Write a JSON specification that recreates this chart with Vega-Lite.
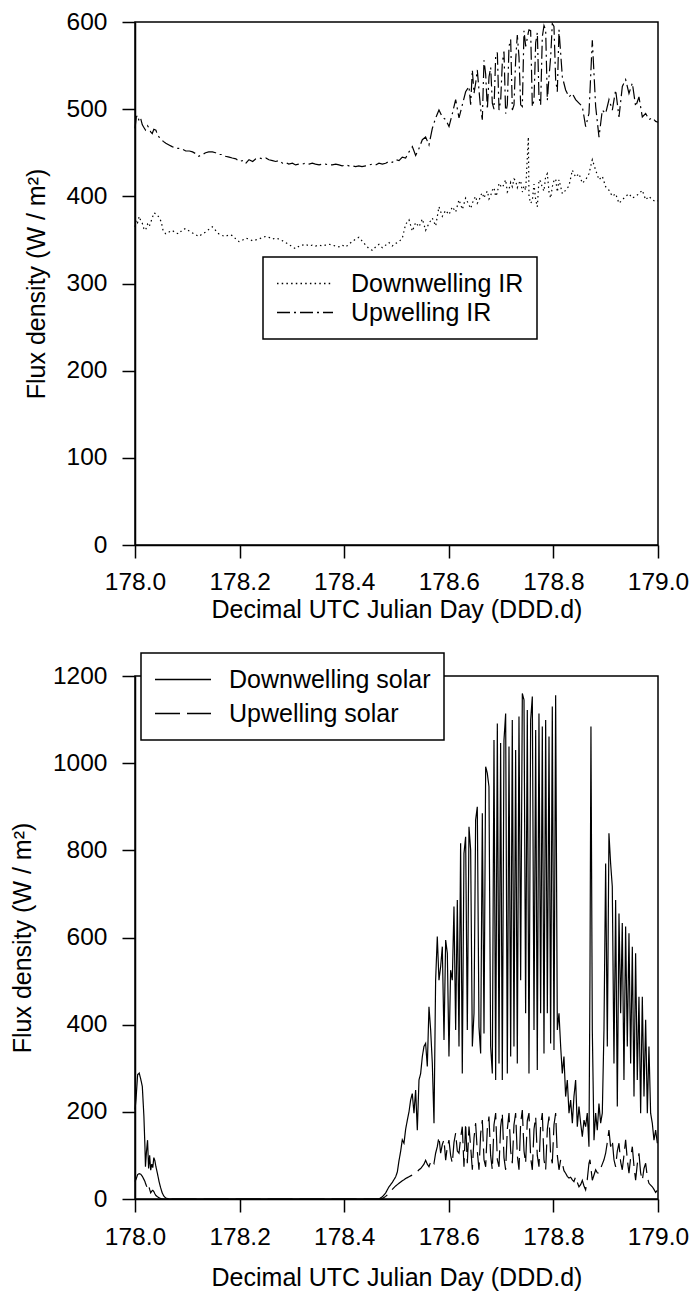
{
"$schema":"https://vega.github.io/schema/vega-lite/v6.json",
"background":"white",
"padding":{"left":9,"top":8,"right":4,"bottom":0},
"datasets":{
"ir":[
{"t":178.000,"down":365,"up":478},{"t":178.0025,"down":373,"up":491},{"t":178.005,"down":370,"up":493},{"t":178.008,"down":377,"up":486},{"t":178.011,"down":372,"up":489},{"t":178.014,"down":369,"up":482},{"t":178.017,"down":363,"up":479},{"t":178.020,"down":361,"up":476},{"t":178.024,"down":368,"up":481},{"t":178.027,"down":365,"up":478},{"t":178.030,"down":370,"up":474},{"t":178.033,"down":375,"up":472},{"t":178.036,"down":381,"up":477},{"t":178.040,"down":380,"up":476},{"t":178.043,"down":378,"up":470},{"t":178.046,"down":376,"up":468},{"t":178.050,"down":371,"up":466},{"t":178.054,"down":360,"up":463},{"t":178.059,"down":357,"up":461},{"t":178.065,"down":359,"up":459},{"t":178.071,"down":361,"up":457},{"t":178.078,"down":358,"up":455},{"t":178.084,"down":357,"up":455},{"t":178.091,"down":362,"up":454},{"t":178.097,"down":363,"up":452},{"t":178.104,"down":360,"up":452},{"t":178.110,"down":358,"up":451},{"t":178.116,"down":356,"up":449},{"t":178.122,"down":354,"up":446},{"t":178.129,"down":357,"up":448},{"t":178.135,"down":359,"up":450},{"t":178.141,"down":362,"up":451},{"t":178.148,"down":365,"up":451},{"t":178.154,"down":361,"up":450},{"t":178.160,"down":357,"up":448},{"t":178.167,"down":355,"up":448},{"t":178.173,"down":354,"up":446},{"t":178.180,"down":356,"up":445},{"t":178.186,"down":355,"up":444},{"t":178.193,"down":351,"up":443},{"t":178.199,"down":348,"up":440},{"t":178.206,"down":350,"up":441},{"t":178.212,"down":352,"up":438},{"t":178.218,"down":351,"up":442},{"t":178.225,"down":349,"up":440},{"t":178.231,"down":350,"up":443},{"t":178.237,"down":351,"up":444},{"t":178.244,"down":353,"up":443},{"t":178.250,"down":354,"up":444},{"t":178.256,"down":353,"up":442},{"t":178.263,"down":351,"up":441},{"t":178.269,"down":352,"up":440},{"t":178.275,"down":351,"up":441},{"t":178.282,"down":349,"up":438},{"t":178.288,"down":347,"up":439},{"t":178.294,"down":345,"up":437},{"t":178.301,"down":342,"up":438},{"t":178.307,"down":340,"up":436},{"t":178.314,"down":343,"up":437},{"t":178.320,"down":344,"up":437},{"t":178.326,"down":345,"up":438},{"t":178.333,"down":343,"up":437},{"t":178.339,"down":344,"up":438},{"t":178.345,"down":343,"up":437},{"t":178.352,"down":344,"up":436},{"t":178.358,"down":343,"up":437},{"t":178.364,"down":344,"up":437},{"t":178.371,"down":345,"up":436},{"t":178.377,"down":344,"up":436},{"t":178.384,"down":343,"up":437},{"t":178.390,"down":342,"up":436},{"t":178.396,"down":344,"up":435},{"t":178.403,"down":342,"up":436},{"t":178.409,"down":345,"up":435},{"t":178.415,"down":348,"up":435},{"t":178.422,"down":351,"up":434},{"t":178.428,"down":353,"up":435},{"t":178.434,"down":349,"up":434},{"t":178.441,"down":344,"up":435},
{"t":178.4474,"down":340,"up":436},{"t":178.4538,"down":338,"up":437},{"t":178.4601,"down":342,"up":436},{"t":178.4665,"down":345,"up":438},{"t":178.4729,"down":341,"up":437},{"t":178.4793,"down":344,"up":438},{"t":178.4856,"down":347,"up":440},{"t":178.4920,"down":343,"up":439},{"t":178.4984,"down":346,"up":442},{"t":178.5048,"down":348,"up":441},{"t":178.5111,"down":352,"up":445},{"t":178.5175,"down":368,"up":444},{"t":178.5239,"down":373,"up":451},{"t":178.5303,"down":360,"up":457},{"t":178.5366,"down":370,"up":447},{"t":178.5430,"down":365,"up":455},{"t":178.5494,"down":374,"up":465},{"t":178.5557,"down":361,"up":468},{"t":178.5621,"down":369,"up":459},{"t":178.5685,"down":375,"up":478},{"t":178.5749,"down":366,"up":490},{"t":178.5812,"down":388,"up":499},{"t":178.5876,"down":377,"up":491},{"t":178.5940,"down":384,"up":488},{"t":178.6004,"down":379,"up":480},{"t":178.6068,"down":388,"up":495},{"t":178.6131,"down":382,"up":511},{"t":178.6195,"down":396,"up":490},{"t":178.6259,"down":385,"up":505},{"t":178.6322,"down":398,"up":520},{"t":178.6386,"down":390,"up":526},{"t":178.6418,"down":386,"up":505},{"t":178.6450,"down":392,"up":545},{"t":178.6482,"down":397,"up":518},{"t":178.6514,"down":400,"up":530},{"t":178.6545,"down":392,"up":545},{"t":178.6577,"down":395,"up":522},{"t":178.6609,"down":401,"up":500},{"t":178.6641,"down":404,"up":488},{"t":178.6673,"down":398,"up":556},{"t":178.6705,"down":403,"up":540},{"t":178.6737,"down":406,"up":500},{"t":178.6769,"down":397,"up":537},{"t":178.6801,"down":401,"up":548},{"t":178.6832,"down":407,"up":507},{"t":178.6864,"down":410,"up":500},{"t":178.6896,"down":400,"up":560},{"t":178.6928,"down":404,"up":565},{"t":178.6960,"down":415,"up":499},{"t":178.6992,"down":412,"up":510},{"t":178.7023,"down":410,"up":553},{"t":178.7055,"down":414,"up":566},{"t":178.7087,"down":419,"up":495},{"t":178.7119,"down":405,"up":505},{"t":178.7151,"down":408,"up":572},{"t":178.7183,"down":416,"up":580},{"t":178.7215,"down":411,"up":499},{"t":178.7247,"down":420,"up":505},{"t":178.7278,"down":418,"up":556},{"t":178.7310,"down":410,"up":585},{"t":178.7342,"down":415,"up":560},{"t":178.7374,"down":418,"up":505},{"t":178.7406,"down":405,"up":503},{"t":178.7438,"down":412,"up":590},{"t":178.7470,"down":407,"up":572},{"t":178.7521,"down":468,"up":588},{"t":178.7533,"down":400,"up":591},{"t":178.7565,"down":392,"up":590},{"t":178.7597,"down":395,"up":503},{"t":178.7629,"down":414,"up":510},{"t":178.7661,"down":396,"up":576},{"t":178.7693,"down":388,"up":588},{"t":178.7724,"down":419,"up":514},{"t":178.7756,"down":417,"up":505},{"t":178.7788,"down":410,"up":583},{"t":178.7820,"down":406,"up":596},{"t":178.7852,"down":423,"up":591},{"t":178.7884,"down":426,"up":510},{"t":178.7916,"down":405,"up":537},{"t":178.7948,"down":398,"up":560},{"t":178.7979,"down":411,"up":598},{"t":178.8011,"down":418,"up":595},{"t":178.8043,"down":420,"up":534},{"t":178.8075,"down":405,"up":520},{"t":178.8107,"down":419,"up":591},{"t":178.8171,"down":403,"up":537},{"t":178.8234,"down":407,"up":522},{"t":178.8298,"down":412,"up":514},{"t":178.8362,"down":430,"up":518},{"t":178.8425,"down":422,"up":511},{"t":178.8489,"down":426,"up":507},{"t":178.8553,"down":415,"up":503},{"t":178.8617,"down":419,"up":480},{"t":178.8680,"down":426,"up":495},{"t":178.8744,"down":442,"up":579},{"t":178.8808,"down":430,"up":503},{"t":178.8872,"down":419,"up":468},{"t":178.8935,"down":423,"up":499},{"t":178.8999,"down":411,"up":495},{"t":178.9063,"down":407,"up":511},{"t":178.9127,"down":400,"up":499},{"t":178.9190,"down":403,"up":522},{"t":178.9254,"down":392,"up":491},{"t":178.9318,"down":396,"up":526},{"t":178.9381,"down":400,"up":534},{"t":178.9445,"down":403,"up":518},{"t":178.9509,"down":398,"up":530},{"t":178.9573,"down":400,"up":503},{"t":178.9636,"down":403,"up":514},{"t":178.9700,"down":407,"up":491},{"t":178.9764,"down":396,"up":495},{"t":178.9828,"down":400,"up":488},{"t":178.9891,"down":396,"up":490},{"t":178.9955,"down":394,"up":486},{"t":179.0,"down":395,"up":485}
],
"solar":[
{"t":178.000,"down":205,"up":40},{"t":178.002,"down":230,"up":45},{"t":178.005,"down":285,"up":56},{"t":178.008,"down":289,"up":58},{"t":178.011,"down":275,"up":57},{"t":178.014,"down":258,"up":52},{"t":178.017,"down":190,"up":45},{"t":178.019,"down":120,"up":40},{"t":178.020,"down":74,"up":36},{"t":178.022,"down":110,"up":30},{"t":178.024,"down":135,"up":25},{"t":178.026,"down":70,"up":32},{"t":178.028,"down":100,"up":22},{"t":178.030,"down":66,"up":14},{"t":178.032,"down":80,"up":18},{"t":178.034,"down":72,"up":20},{"t":178.036,"down":95,"up":17},{"t":178.038,"down":88,"up":12},{"t":178.040,"down":74,"up":8},{"t":178.043,"down":58,"up":5},{"t":178.046,"down":40,"up":3},{"t":178.049,"down":26,"up":1},{"t":178.052,"down":14,"up":0},{"t":178.055,"down":7,"up":0},{"t":178.059,"down":2,"up":0},{"t":178.065,"down":0,"up":0},{"t":178.4665,"down":0,"up":0},
{"t":178.4729,"down":5,"up":1},{"t":178.4793,"down":14,"up":6},{"t":178.4856,"down":28,"up":13},{"t":178.4920,"down":38,"up":22},{"t":178.4984,"down":51,"up":30},{"t":178.5016,"down":62,"up":33},{"t":178.5048,"down":88,"up":36},{"t":178.5080,"down":110,"up":39},{"t":178.5111,"down":136,"up":42},{"t":178.5143,"down":128,"up":44},{"t":178.5175,"down":160,"up":47},{"t":178.5207,"down":181,"up":49},{"t":178.5239,"down":200,"up":51},{"t":178.5270,"down":227,"up":53},{"t":178.5302,"down":242,"up":55},{"t":178.5334,"down":197,"up":58},{"t":178.5366,"down":250,"up":60},{"t":178.5398,"down":158,"up":63},{"t":178.5430,"down":273,"up":67},{"t":178.5462,"down":288,"up":70},{"t":178.5494,"down":327,"up":75},{"t":178.5525,"down":350,"up":80},{"t":178.5557,"down":357,"up":89},{"t":178.5589,"down":304,"up":80},{"t":178.5621,"down":441,"up":74},{"t":178.5653,"down":388,"up":85},{"t":178.5685,"down":311,"up":90},{"t":178.5717,"down":174,"up":82},{"t":178.5748,"down":502,"up":105},{"t":178.5780,"down":602,"up":120},{"t":178.5812,"down":502,"up":143},{"t":178.5844,"down":533,"up":105},{"t":178.5876,"down":579,"up":125},{"t":178.5908,"down":365,"up":136},{"t":178.5940,"down":594,"up":89},{"t":178.5972,"down":564,"up":120},{"t":178.6003,"down":327,"up":135},{"t":178.6035,"down":525,"up":100},{"t":178.6067,"down":502,"up":82},{"t":178.6099,"down":671,"up":130},{"t":178.6131,"down":388,"up":151},{"t":178.6163,"down":686,"up":110},{"t":178.6195,"down":350,"up":105},{"t":178.6226,"down":816,"up":140},{"t":178.6258,"down":288,"up":166},{"t":178.6290,"down":793,"up":74},{"t":178.6322,"down":831,"up":174},{"t":178.6354,"down":388,"up":82},{"t":178.6386,"down":854,"up":166},{"t":178.6418,"down":801,"up":120},{"t":178.6450,"down":350,"up":67},{"t":178.6482,"down":426,"up":140},{"t":178.6513,"down":870,"up":174},{"t":178.6545,"down":900,"up":110},{"t":178.6577,"down":395,"up":67},{"t":178.6609,"down":334,"up":150},{"t":178.6641,"down":885,"up":181},{"t":178.6673,"down":380,"up":90},{"t":178.6705,"down":992,"up":74},{"t":178.6736,"down":977,"up":160},{"t":178.6768,"down":946,"up":189},{"t":178.6800,"down":350,"up":100},{"t":178.6832,"down":288,"up":67},{"t":178.6864,"down":1053,"up":170},{"t":178.6896,"down":273,"up":197},{"t":178.6928,"down":1091,"up":90},{"t":178.6960,"down":311,"up":74},{"t":178.6991,"down":1046,"up":165},{"t":178.7023,"down":273,"up":197},{"t":178.7055,"down":1053,"up":95},{"t":178.7087,"down":1114,"up":67},{"t":178.7119,"down":288,"up":160},{"t":178.7151,"down":1038,"up":197},{"t":178.7183,"down":327,"up":110},{"t":178.7214,"down":1099,"up":82},{"t":178.7246,"down":350,"up":170},{"t":178.7278,"down":1030,"up":197},{"t":178.7310,"down":311,"up":100},{"t":178.7342,"down":1107,"up":67},{"t":178.7374,"down":502,"up":175},{"t":178.7406,"down":1160,"up":204},{"t":178.7438,"down":1145,"up":110},{"t":178.7469,"down":426,"up":82},{"t":178.7501,"down":1122,"up":180},{"t":178.7533,"down":288,"up":197},{"t":178.7565,"down":1099,"up":95},{"t":178.7597,"down":1153,"up":67},{"t":178.7629,"down":388,"up":160},{"t":178.7661,"down":1076,"up":189},{"t":178.7692,"down":296,"up":100},{"t":178.7724,"down":1114,"up":74},{"t":178.7756,"down":426,"up":170},{"t":178.7788,"down":1084,"up":197},{"t":178.7820,"down":334,"up":90},{"t":178.7852,"down":1099,"up":67},{"t":178.7884,"down":426,"up":160},{"t":178.7916,"down":1061,"up":189},{"t":178.7947,"down":357,"up":100},{"t":178.7979,"down":1130,"up":82},{"t":178.8011,"down":342,"up":170},{"t":178.8043,"down":1156,"up":197},{"t":178.8075,"down":388,"up":100},{"t":178.8107,"down":426,"up":67},{"t":178.8139,"down":350,"up":90},{"t":178.8170,"down":288,"up":82},{"t":178.8202,"down":327,"up":65},{"t":178.8234,"down":235,"up":59},{"t":178.8266,"down":273,"up":52},{"t":178.8298,"down":197,"up":48},{"t":178.8330,"down":227,"up":50},{"t":178.8362,"down":174,"up":44},{"t":178.8393,"down":235,"up":40},{"t":178.8425,"down":273,"up":51},{"t":178.8457,"down":166,"up":38},{"t":178.8489,"down":212,"up":28},{"t":178.8521,"down":174,"up":33},{"t":178.8553,"down":143,"up":43},{"t":178.8585,"down":181,"up":30},{"t":178.8616,"down":166,"up":21},{"t":178.8648,"down":197,"up":45},{"t":178.8680,"down":120,"up":82},{"t":178.8699,"down":502,"up":90},{"t":178.8718,"down":1084,"up":70},{"t":178.8744,"down":388,"up":43},{"t":178.8776,"down":135,"up":55},{"t":178.8808,"down":197,"up":67},{"t":178.8839,"down":158,"up":60},{"t":178.8871,"down":219,"up":59},{"t":178.8903,"down":174,"up":70},{"t":178.8935,"down":197,"up":80},{"t":178.8967,"down":388,"up":90},{"t":178.8999,"down":770,"up":105},{"t":178.9031,"down":350,"up":130},{"t":178.9062,"down":839,"up":158},{"t":178.9094,"down":770,"up":120},{"t":178.9126,"down":717,"up":135},{"t":178.9158,"down":311,"up":90},{"t":178.9190,"down":686,"up":74},{"t":178.9222,"down":212,"up":110},{"t":178.9254,"down":655,"up":128},{"t":178.9286,"down":426,"up":85},{"t":178.9317,"down":633,"up":67},{"t":178.9349,"down":273,"up":100},{"t":178.9381,"down":625,"up":136},{"t":178.9413,"down":350,"up":90},{"t":178.9445,"down":610,"up":59},{"t":178.9477,"down":311,"up":95},{"t":178.9509,"down":579,"up":120},{"t":178.9541,"down":235,"up":75},{"t":178.9572,"down":564,"up":43},{"t":178.9604,"down":273,"up":80},{"t":178.9636,"down":464,"up":105},{"t":178.9668,"down":197,"up":60},{"t":178.9700,"down":464,"up":43},{"t":178.9732,"down":235,"up":70},{"t":178.9764,"down":411,"up":82},{"t":178.9796,"down":197,"up":50},{"t":178.9827,"down":350,"up":36},{"t":178.9859,"down":197,"up":32},{"t":178.9891,"down":174,"up":28},{"t":178.9923,"down":135,"up":22},{"t":178.9955,"down":158,"up":15},{"t":178.9987,"down":128,"up":20}
]
},
"config":{
"font":"Liberation Sans",
"view":{"stroke":"black","strokeWidth":1.5},
"axis":{"grid":false,"domainColor":"black","domainWidth":1.5,"tickColor":"black","tickWidth":1.5,"tickSize":13,"labelFont":"Liberation Sans","labelFontSize":24.5,"labelColor":"black","labelFlush":false,"labelOverlap":false,"titleFont":"Liberation Sans","titleFontSize":25,"titleFontWeight":"normal","titleColor":"black"},
"legend":{"orient":"none","title":null,"strokeColor":"black","strokeWidth":1.5,"fillColor":"white","padding":13,"labelFont":"Liberation Sans","labelFontSize":25,"labelColor":"black","labelLimit":0,"symbolType":"M-1,0H3.48","symbolSize":625,"symbolStrokeColor":"black","symbolStrokeWidth":1.3,"symbolFillColor":"transparent","labelOffset":48},
"concat":{"spacing":28}
},
"resolve":{"scale":{"strokeDash":"independent"},"legend":{"strokeDash":"independent"}},
"vconcat":[
{
"width":523,"height":523,
"data":{"name":"ir"},
"transform":[{"fold":["down","up"],"as":["series","value"]}],
"mark":{"type":"line","stroke":"black","strokeWidth":1.2},
"encoding":{
"x":{"field":"t","type":"quantitative","scale":{"domain":[178,179],"nice":false,"zero":false},"axis":{"values":[178,178.2,178.4,178.6,178.8,179],"format":".1f","title":"Decimal UTC Julian Day (DDD.d)","labelPadding":12.5,"titlePadding":3}},
"y":{"field":"value","type":"quantitative","scale":{"domain":[0,600],"nice":false},"axis":{"values":[0,100,200,300,400,500,600],"format":"d","title":"Flux density (W / m²)","labelPadding":15,"titlePadding":17}},
"strokeDash":{"field":"series","type":"nominal","scale":{"domain":["down","up"],"range":[[1.5,3.2],[13,4,2,4]]},"legend":{"legendX":128,"legendY":235,"rowPadding":2,"labelExpr":"datum.label == 'down' ? 'Downwelling IR' : 'Upwelling IR'"}}
}
},
{
"width":523,"height":523,
"data":{"name":"solar"},
"transform":[{"fold":["down","up"],"as":["series","value"]}],
"mark":{"type":"line","stroke":"black","strokeWidth":1.2},
"encoding":{
"x":{"field":"t","type":"quantitative","scale":{"domain":[178,179],"nice":false,"zero":false},"axis":{"values":[178,178.2,178.4,178.6,178.8,179],"format":".1f","title":"Decimal UTC Julian Day (DDD.d)","labelPadding":13.5,"titlePadding":16}},
"y":{"field":"value","type":"quantitative","scale":{"domain":[0,1200],"nice":false},"axis":{"values":[0,200,400,600,800,1000,1200],"format":"d","title":"Flux density (W / m²)","labelPadding":15,"titlePadding":17}},
"strokeDash":{"field":"series","type":"nominal","scale":{"domain":["down","up"],"range":[[1,0],[25,7]]},"legend":{"legendX":6,"legendY":-23,"rowPadding":7,"labelExpr":"datum.label == 'down' ? 'Downwelling solar' : 'Upwelling solar'"}}
}
}
]
}
